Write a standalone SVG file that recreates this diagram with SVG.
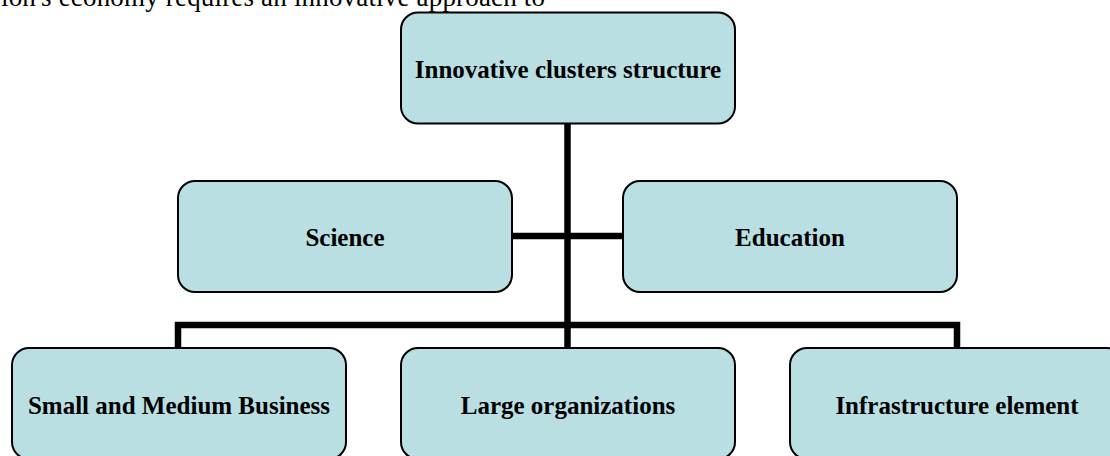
<svg xmlns="http://www.w3.org/2000/svg" width="1110" height="456" viewBox="0 0 1110 456">
<style>
.box{fill:#b9dfe3;stroke:#000;stroke-width:2}
.lbl{font-family:"Liberation Serif","Times New Roman",serif;font-weight:bold;font-size:25px;fill:#000;text-anchor:middle}
.body{font-family:"Liberation Serif","Times New Roman",serif;font-size:27px;fill:#000}
.conn{fill:none;stroke:#000;stroke-width:6.5;stroke-linejoin:miter}
</style>
<rect width="1110" height="456" fill="#fff"/>
<text class="body" x="1" y="6" textLength="544" lengthAdjust="spacing">ion's economy requires an innovative approach to</text>
<g id="connectors">
<path class="conn" d="M567.5,124 V348"/>
<path class="conn" d="M512,236 H623"/>
<path class="conn" d="M178,348 V325 H957 V348"/>
</g>
<g id="node-top">
<rect class="box" x="401" y="12.5" width="334" height="111" rx="17"/>
<text class="lbl" x="568" y="78">Innovative clusters structure</text>
</g>
<g id="node-science">
<rect class="box" x="178" y="181" width="334" height="111" rx="17"/>
<text class="lbl" x="345" y="246">Science</text>
</g>
<g id="node-education">
<rect class="box" x="623" y="181" width="334" height="111" rx="17"/>
<text class="lbl" x="790" y="246">Education</text>
</g>
<g id="node-smb">
<rect class="box" x="12" y="348" width="334" height="111" rx="17"/>
<text class="lbl" x="179" y="414">Small and Medium Business</text>
</g>
<g id="node-large">
<rect class="box" x="401" y="348" width="334" height="111" rx="17"/>
<text class="lbl" x="568" y="414">Large organizations</text>
</g>
<g id="node-infra">
<rect class="box" x="790" y="348" width="334" height="111" rx="17"/>
<text class="lbl" x="957" y="414">Infrastructure element</text>
</g>
</svg>
